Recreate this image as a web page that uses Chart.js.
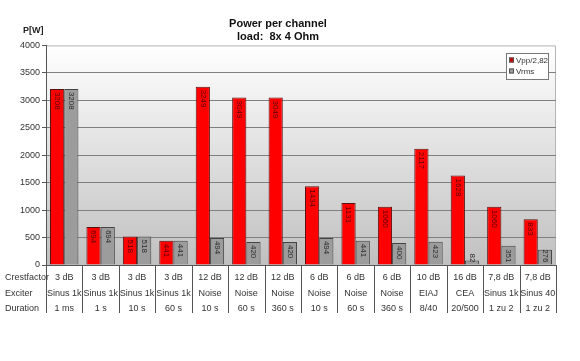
<!DOCTYPE html>
<html>
<head>
<meta charset="utf-8">
<script src="https://cdn.jsdelivr.net/npm/chart.js@4"></script>
<style>
    html, body { margin: 0; padding: 0; background: #ffffff; }
    #wrap { width: 580px; height: 361px; }
</style>
</head>
<body>
<div id="wrap"><canvas id="powerChart" width="580" height="361"></canvas></div>
<script>
// Chart data
const crestfactor = ['3 dB', '3 dB', '3 dB', '3 dB', '12 dB', '12 dB', '12 dB', '6 dB', '6 dB', '6 dB', '10 dB', '16 dB', '7,8 dB', '7,8 dB'];
const exciter = ['Sinus 1k', 'Sinus 1k', 'Sinus 1k', 'Sinus 1k', 'Noise', 'Noise', 'Noise', 'Noise', 'Noise', 'Noise', 'EIAJ', 'CEA', 'Sinus 1k', 'Sinus 40'];
const duration = ['1 ms', '1 s', '10 s', '60 s', '10 s', '60 s', '360 s', '10 s', '60 s', '360 s', '8/40', '20/500', '1 zu 2', '1 zu 2'];
const rowNames = ['Crestfactor', 'Exciter', 'Duration'];

const vppValues = [3208, 694, 518, 441, 3249, 3049, 3049, 1434, 1131, 1060, 2117, 1628, 1060, 833];
const vrmsValues = [3208, 694, 518, 441, 494, 420, 420, 494, 441, 400, 423, 82, 351, 276];

const FONT = '"Liberation Sans", Arial, sans-serif';
const ROW_H = 15.5;
const TICK_PAD = 4;

// Plot background gradient + border
const plotBackground = {
    id: 'plotBackground',
    beforeDraw(chart) {
        const { ctx, chartArea: a } = chart;
        const g = ctx.createLinearGradient(0, a.top, 0, a.bottom);
        g.addColorStop(0, '#ffffff');
        g.addColorStop(1, '#c0c0c0');
        ctx.save();
        ctx.fillStyle = g;
        ctx.fillRect(a.left, a.top, a.right - a.left, a.bottom - a.top);
        ctx.strokeStyle = '#b4b4b4';
        ctx.lineWidth = 1;
        ctx.beginPath();
        ctx.moveTo(a.left, a.top + 0.5);
        ctx.lineTo(a.right - 0.5, a.top + 0.5);
        ctx.lineTo(a.right - 0.5, a.bottom);
        ctx.stroke();
        ctx.restore();
    }
};

// Rotated value labels inside the bars
const barLabels = {
    id: 'barLabels',
    afterDatasetsDraw(chart) {
        const { ctx } = chart;
        ctx.save();
        ctx.font = '8px ' + FONT;
        chart.data.datasets.forEach((ds, di) => {
            const meta = chart.getDatasetMeta(di);
            meta.data.forEach((bar, i) => {
                const text = String(ds.data[i]);
                const w = ctx.measureText(text).width;
                let start = bar.y + 3;
                if (bar.base - bar.y < w + 6) start = bar.base - w - 2;
                ctx.save();
                ctx.translate(bar.x, start);
                ctx.rotate(Math.PI / 2);
                ctx.fillStyle = ds.labelColor;
                ctx.textAlign = 'left';
                ctx.textBaseline = 'middle';
                ctx.fillText(text, 0, 0);
                ctx.restore();
            });
        });
        ctx.restore();
    }
};

// Table under the axis, axis unit and legend box
const chartExtras = {
    id: 'chartExtras',
    afterDraw(chart) {
        const { ctx, chartArea: a } = chart;
        const xScale = chart.scales.x;
        const n = xScale.ticks.length;
        const step = (a.right - a.left) / n;
        ctx.save();

        // dividers
        ctx.strokeStyle = '#555555';
        ctx.lineWidth = 1;
        for (let i = 0; i <= n; i++) {
            const x = Math.round(a.left + i * step) + 0.5;
            ctx.beginPath();
            ctx.moveTo(x, a.bottom);
            ctx.lineTo(x, a.bottom + 48);
            ctx.stroke();
        }

        // row names
        ctx.fillStyle = '#333333';
        ctx.font = '9px ' + FONT;
        ctx.textAlign = 'left';
        ctx.textBaseline = 'middle';
        rowNames.forEach((name, r) => {
            ctx.fillText(name, 5, a.bottom + TICK_PAD + ROW_H * (r + 0.5) + 1);
        });

        // unit
        ctx.font = 'bold 9px ' + FONT;
        ctx.fillStyle = '#222222';
        ctx.fillText('P[W]', 23, 31);

        // legend
        const bx = 506, by = 53, bw = 42, bh = 26;
        ctx.fillStyle = '#ffffff';
        ctx.fillRect(bx, by, bw, bh);
        ctx.strokeStyle = '#777777';
        ctx.strokeRect(bx + 0.5, by + 0.5, bw, bh);
        ctx.font = '8px ' + FONT;
        chart.data.datasets.forEach((ds, i) => {
            const y = by + 7 + i * 11;
            ctx.fillStyle = ds.legendColor;
            ctx.fillRect(bx + 3, y - 2.5, 5, 5);
            ctx.strokeStyle = '#555555';
            ctx.strokeRect(bx + 3.5, y - 2, 4, 4);
            ctx.fillStyle = '#333333';
            ctx.fillText(ds.label, bx + 10, y + 0.5);
        });
        ctx.restore();
    }
};

const ctx = document.getElementById('powerChart').getContext('2d');
const chart = new Chart(ctx, {
    type: 'bar',
    data: {
        labels: crestfactor.map((c, i) => [c, exciter[i], duration[i]]),
        datasets: [
            {
                label: 'Vpp/2,82',
                data: vppValues,
                backgroundColor: '#ff0000',
                borderColor: '#5a1010',
                borderWidth: 1,
                labelColor: '#5c0000',
                legendColor: '#cc0000'
            },
            {
                label: 'Vrms',
                data: vrmsValues,
                backgroundColor: '#9c9c9c',
                borderColor: '#444444',
                borderWidth: 1,
                labelColor: '#2a2a2a',
                legendColor: '#9c9c9c'
            }
        ]
    },
    options: {
        responsive: false,
        animation: false,
        devicePixelRatio: 1,
        layout: { padding: { left: 0, right: 24, top: 0, bottom: 0 } },
        categoryPercentage: 0.78,
        barPercentage: 1.0,
        plugins: {
            legend: { display: false },
            tooltip: { enabled: false },
            title: {
                display: true,
                text: ['Power per channel', 'load:  8x 4 Ohm'],
                color: '#111111',
                font: { family: FONT, size: 11, weight: 'bold', lineHeight: 1.2 },
                padding: { top: 17, bottom: 2 }
            }
        },
        scales: {
            x: {
                grid: { display: false },
                border: { display: true, color: '#555555', width: 1 },
                ticks: {
                    color: '#333333',
                    font: { family: FONT, size: 9, lineHeight: ROW_H / 9 },
                    padding: -3,
                    maxRotation: 0,
                    autoSkip: false
                },
                afterFit(scale) { scale.height = 96; }
            },
            y: {
                min: 0,
                max: 4000,
                ticks: {
                    stepSize: 500,
                    color: '#333333',
                    font: { family: FONT, size: 9 },
                    padding: 2,
                    callback: v => String(v)
                },
                grid: {
                    color: c => (c.tick && c.tick.value === 4000) ? 'rgba(0,0,0,0)' : '#808080',
                    tickColor: '#555555',
                    tickLength: 4
                },
                border: { display: true, color: '#555555', width: 1 },
                afterFit(scale) { scale.width = 46; }
            }
        }
    },
    plugins: [plotBackground, barLabels, chartExtras]
});
</script>
</body>
</html>
